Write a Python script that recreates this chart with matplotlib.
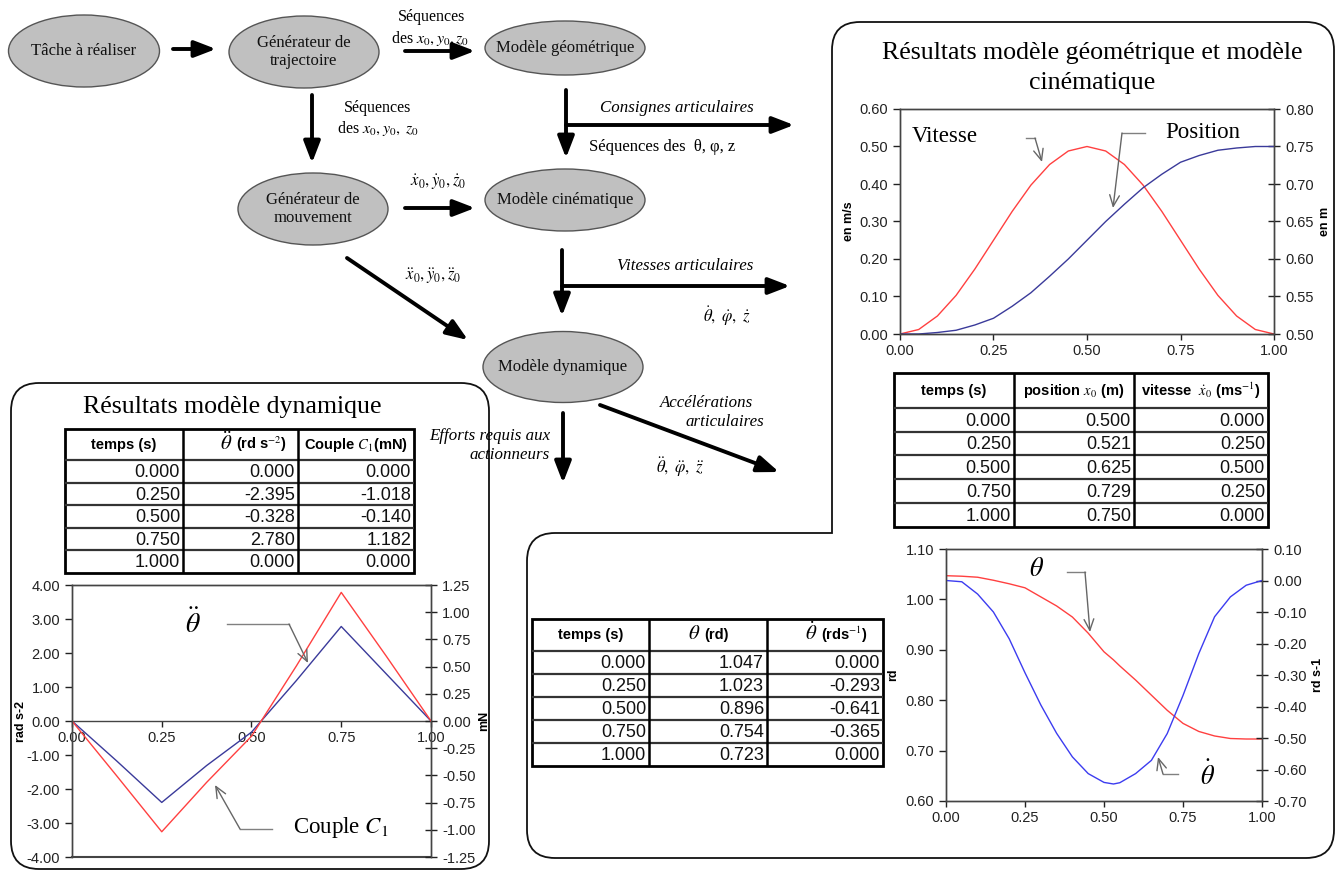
import matplotlib
matplotlib.use('Agg')
import matplotlib.pyplot as plt
from matplotlib.patches import Ellipse, FancyBboxPatch, PathPatch, Rectangle
from matplotlib.path import Path
from matplotlib.ticker import MultipleLocator, FormatStrFormatter

plt.rcParams['font.family'] = ['Liberation Sans', 'DejaVu Sans']
plt.rcParams['mathtext.fontset'] = 'stix'

W, H = 1344, 872
SERIF = ['Liberation Serif', 'DejaVu Serif']

# ---- data : modele geometrique / cinematique
t_geo = [0.00, 0.05, 0.10, 0.15, 0.20, 0.25, 0.30, 0.35, 0.40, 0.45, 0.50,
         0.55, 0.60, 0.65, 0.70, 0.75, 0.80, 0.85, 0.90, 0.95, 1.00]
vitesse = [0.000, 0.012, 0.048, 0.103, 0.173, 0.250, 0.327, 0.397, 0.452, 0.488, 0.500,
           0.488, 0.452, 0.397, 0.327, 0.250, 0.173, 0.103, 0.048, 0.012, 0.000]
position = [0.500, 0.500, 0.502, 0.505, 0.512, 0.521, 0.537, 0.555, 0.577, 0.600, 0.625,
            0.650, 0.673, 0.695, 0.713, 0.729, 0.738, 0.745, 0.748, 0.750, 0.750]

# ---- data : modele dynamique
t_dyn = [0.000, 0.125, 0.250, 0.375, 0.500, 0.625, 0.750, 0.875, 1.000]
theta_dd = [0.000, -1.18, -2.395, -1.31, -0.328, 1.19, 2.780, 1.39, 0.000]
couple = [0.000, -0.506, -1.018, -0.564, -0.140, 0.506, 1.182, 0.598, 0.000]

# ---- data : angles
t_ang = [0.00, 0.05, 0.10, 0.15, 0.20, 0.25, 0.30, 0.35, 0.40, 0.45, 0.50,
         0.53, 0.55, 0.60, 0.65, 0.70, 0.75, 0.80, 0.85, 0.90, 0.95, 1.00]
theta = [1.047, 1.046, 1.044, 1.038, 1.031, 1.023, 1.005, 0.987, 0.965, 0.933, 0.896,
         0.880, 0.868, 0.840, 0.810, 0.780, 0.754, 0.738, 0.729, 0.724, 0.723, 0.723]
theta_d = [0.000, -0.004, -0.043, -0.100, -0.185, -0.293, -0.395, -0.485, -0.560, -0.613, -0.641,
           -0.646, -0.642, -0.613, -0.571, -0.486, -0.365, -0.232, -0.115, -0.052, -0.015, 0.000]

# ---- tables
tab_t = [0.000, 0.250, 0.500, 0.750, 1.000]
tab_pos = [0.500, 0.521, 0.625, 0.729, 0.750]
tab_vit = [0.000, 0.250, 0.500, 0.250, 0.000]
tab_tdd = [0.000, -2.395, -0.328, 2.780, 0.000]
tab_c1 = [0.000, -1.018, -0.140, 1.182, 0.000]
tab_th = [1.047, 1.023, 0.896, 0.754, 0.723]
tab_thd = [0.000, -0.293, -0.641, -0.365, 0.000]

RED = '#ff4040'
NAVY = '#3a3a9a'
BLUE = '#3c3cf0'

fig = plt.figure(figsize=(W / 100, H / 100), dpi=100)
bg = fig.add_axes([0, 0, 1, 1], zorder=0)
bg.set_xlim(0, W)
bg.set_ylim(H, 0)
bg.axis('off')

top = fig.add_axes([0, 0, 1, 1], zorder=10)
top.set_xlim(0, W)
top.set_ylim(H, 0)
top.axis('off')
top.patch.set_visible(False)

# ---- rounded frames
r = 28
verts = [(832, 22 + r), (832, 22), (832 + r, 22), (1334 - r, 22), (1334, 22), (1334, 22 + r),
         (1334, 858 - r), (1334, 858), (1334 - r, 858), (527 + r, 858), (527, 858), (527, 858 - r),
         (527, 533 + r), (527, 533), (527 + r, 533), (832, 533), (832, 22 + r)]
codes = [Path.MOVETO, Path.CURVE3, Path.CURVE3, Path.LINETO, Path.CURVE3, Path.CURVE3,
         Path.LINETO, Path.CURVE3, Path.CURVE3, Path.LINETO, Path.CURVE3, Path.CURVE3,
         Path.LINETO, Path.CURVE3, Path.CURVE3, Path.LINETO, Path.CLOSEPOLY]
bg.add_patch(PathPatch(Path(verts, codes), fc='white', ec='#111', lw=1.3))
bg.add_patch(FancyBboxPatch((11, 383), 478, 486, boxstyle='round,pad=0,rounding_size=28',
                            fc='white', ec='#111', lw=1.3))

# ---- flowchart
nodes = [("Tâche à réaliser", 84, 51, 151, 72),
         ("Générateur de\ntrajectoire", 304, 52, 150, 72),
         ("Modèle géométrique", 565, 48, 160, 54),
         ("Générateur de\nmouvement", 313, 209, 150, 72),
         ("Modèle cinématique", 565, 200, 160, 62),
         ("Modèle dynamique", 563, 367, 160, 71)]
for txt, cx, cy, w, h in nodes:
    bg.add_patch(Ellipse((cx, cy), w, h, fc='#c0c0c0', ec='#555', lw=1))
    bg.text(cx, cy, txt, ha='center', va='center', fontsize=12, family=SERIF,
            linespacing=1.2, color='#111')


def arrow(x0, y0, x1, y1):
    bg.annotate('', xy=(x1, y1), xytext=(x0, y0),
                arrowprops=dict(arrowstyle='-|>,head_length=1.3,head_width=0.5', lw=2.8,
                                color='k', shrinkA=0, shrinkB=0, mutation_scale=10))


arrow(173, 49, 216, 49)
arrow(405, 51, 475, 51)
arrow(312, 95, 312, 163)
arrow(405, 208, 475, 208)
arrow(347, 258, 468, 340)
arrow(566, 90, 566, 158)
arrow(566, 125, 794, 125)
arrow(562, 250, 562, 316)
arrow(562, 286, 790, 286)
arrow(563, 413, 563, 483)
arrow(600, 405, 779, 472)

fs = 11.5
it = 12.2
bg.text(432, 17, "Séquences", ha='center', va='center', fontsize=fs, family=SERIF)
bg.text(430, 38, r"des $x_0, y_0, z_0$", ha='center', va='center', fontsize=fs, family=SERIF)
bg.text(378, 108, "Séquences", ha='center', va='center', fontsize=fs, family=SERIF)
bg.text(378, 128, r"des $x_0, y_0,\ z_0$", ha='center', va='center', fontsize=fs, family=SERIF)
bg.text(438, 182, r"$\dot{x}_0,\dot{y}_0,\dot{z}_0$", ha='center', va='center', fontsize=12)
bg.text(433, 276, r"$\ddot{x}_0,\ddot{y}_0,\ddot{z}_0$", ha='center', va='center', fontsize=12)
bg.text(677, 108, "Consignes articulaires", ha='center', va='center', fontsize=it,
        family=SERIF, style='italic')
bg.text(662, 147, "Séquences des  θ, φ, z", ha='center', va='center', fontsize=12, family=SERIF)
bg.text(685, 266, "Vitesses articulaires", ha='center', va='center', fontsize=it,
        family=SERIF, style='italic')
bg.text(727, 316, r"$\dot{\theta},\ \dot{\varphi},\ \dot{z}$", ha='center', va='center', fontsize=12)
bg.text(550, 436, "Efforts requis aux", ha='right', va='center', fontsize=it,
        family=SERIF, style='italic')
bg.text(550, 455, "actionneurs", ha='right', va='center', fontsize=it,
        family=SERIF, style='italic')
bg.text(660, 403, "Accélérations", ha='left', va='center', fontsize=it,
        family=SERIF, style='italic')
bg.text(685, 422, "articulaires", ha='left', va='center', fontsize=it,
        family=SERIF, style='italic')
bg.text(680, 467, r"$\ddot{\theta},\ \ddot{\varphi},\ \ddot{z}$", ha='center', va='center', fontsize=12)

# ---- titles
bg.text(232, 407, "Résultats modèle dynamique", ha='center', va='center', fontsize=18.6,
        family=SERIF)
bg.text(1092, 53, "Résultats modèle géométrique et modèle", ha='center',
        va='center', fontsize=18.6, family=SERIF)
bg.text(1092, 83, "cinématique", ha='center', va='center', fontsize=18.6, family=SERIF)


# ---- tables
def draw_table(cols, rows, header, columns):
    x0, x1 = cols[0], cols[-1]
    for y in rows[1:-1]:
        bg.plot([x0, x1], [y, y], color='#333', lw=1.6, solid_capstyle='butt')
    for x in cols[1:-1]:
        bg.plot([x, x], [rows[0], rows[-1]], color='k', lw=1.8, solid_capstyle='butt')
    bg.add_patch(Rectangle((x0, rows[0]), x1 - x0, rows[-1] - rows[0], fill=False,
                           ec='k', lw=2))
    yh = (rows[0] + rows[1]) / 2
    for j, hd in enumerate(header):
        xc = (cols[j] + cols[j + 1]) / 2
        if isinstance(hd, tuple):
            bg.text(xc - 8, yh - 2, hd[0], ha='right', va='center', fontsize=15)
            bg.text(xc - 4, yh, hd[1], ha='left', va='center', fontsize=10.5, fontweight='bold')
        else:
            bg.text(xc, yh, hd, ha='center', va='center', fontsize=10.5, fontweight='bold')
    for j, col in enumerate(columns):
        for i, v in enumerate(col):
            bg.text(cols[j + 1] - 3, (rows[i + 1] + rows[i + 2]) / 2 + 1, f"{v:.3f}",
                    ha='right', va='center', fontsize=13, color='#111')


draw_table([894, 1014, 1134, 1268], [373, 408, 432, 455, 479, 503, 527],
           ["temps (s)", r"position $\mathbf{\mathit{x}}_0$ (m)",
            r"vitesse  $\dot{x}_0$ (ms$^{-1}$)"],
           [tab_t, tab_pos, tab_vit])
draw_table([65, 183, 298, 414], [429, 460, 483, 505, 528, 550, 573],
           ["temps (s)", (r"$\ddot{\theta}$", r"(rd s$^{-2}$)"), r"Couple $C_1$(mN)"],
           [tab_t, tab_tdd, tab_c1])
draw_table([532, 649, 767, 883], [619, 651, 674, 697, 720, 743, 766],
           ["temps (s)", (r"$\theta$", "(rd)"), (r"$\dot{\theta}$", r"(rds$^{-1}$)")],
           [tab_t, tab_th, tab_thd])


# ---- charts
def px_axes(x0, y0, x1, y1):
    ax = fig.add_axes([x0 / W, 1 - y1 / H, (x1 - x0) / W, (y1 - y0) / H], zorder=2)
    ax2 = ax.twinx()
    ax2.set_zorder(3)
    ax2.patch.set_visible(False)
    for a in (ax, ax2):
        for s in a.spines.values():
            s.set_color('#444')
            s.set_linewidth(1)
        a.tick_params(labelsize=10.5, colors='#222', width=1)
        a.yaxis.set_major_formatter(FormatStrFormatter('%.2f'))
    ax.tick_params(axis='y', direction='out', length=5)
    ax2.tick_params(axis='y', direction='inout', length=9)
    ax.tick_params(axis='x', direction='out', length=4)
    ax.set_xlim(0, 1)
    ax.xaxis.set_major_locator(MultipleLocator(0.25))
    ax.xaxis.set_major_formatter(FormatStrFormatter('%.2f'))
    return ax, ax2


# geometrique / cinematique
ax, ax2 = px_axes(900, 109, 1274, 334)
ax.plot(t_geo, vitesse, color=RED, lw=1)
ax2.plot(t_geo, position, color=NAVY, lw=1)
ax.set_ylim(0, 0.6)
ax.yaxis.set_major_locator(MultipleLocator(0.1))
ax2.set_ylim(0.5, 0.8)
ax2.yaxis.set_major_locator(MultipleLocator(0.05))
ax.set_ylabel("en m/s", fontsize=9, fontweight='bold', labelpad=3)
ax2.set_ylabel("en m", fontsize=9, fontweight='bold', labelpad=4)

# dynamique
ax, ax2 = px_axes(72, 585, 431, 857)
ax.plot(t_dyn, theta_dd, color=NAVY, lw=1)
ax2.plot(t_dyn, couple, color=RED, lw=1)
ax.set_ylim(-4, 4)
ax.yaxis.set_major_locator(MultipleLocator(1))
ax2.set_ylim(-1.25, 1.25)
ax2.yaxis.set_major_locator(MultipleLocator(0.25))
ax.spines['bottom'].set_position(('data', 0))
ax2.spines['bottom'].set_visible(False)
ax.axhline(-4, color='#444', lw=1.5, clip_on=False)
ax.set_ylabel("rad s-2", fontsize=9, fontweight='bold', labelpad=0)
ax2.set_ylabel("mN", fontsize=9, fontweight='bold', labelpad=2)

# angles
ax, ax2 = px_axes(946, 549, 1262, 801)
ax.plot(t_ang, theta, color=RED, lw=1)
ax2.plot(t_ang, theta_d, color=BLUE, lw=1)
ax.set_ylim(0.6, 1.1)
ax.yaxis.set_major_locator(MultipleLocator(0.1))
ax2.set_ylim(-0.7, 0.1)
ax2.yaxis.set_major_locator(MultipleLocator(0.1))
ax.set_ylabel("rd", fontsize=9, fontweight='bold', labelpad=5)
ax2.set_ylabel("rd s-1", fontsize=9, fontweight='bold', labelpad=4)


# ---- curve labels with pointers
def pointer(pts):
    xs = [p[0] for p in pts]
    ys = [p[1] for p in pts]
    top.plot(xs[:-1], ys[:-1], color='#808080', lw=1)
    top.annotate('', xy=pts[-1], xytext=pts[-2],
                 arrowprops=dict(arrowstyle='->,head_length=0.8,head_width=0.35', lw=1,
                                 color='#666', shrinkA=0, shrinkB=0, mutation_scale=10))


top.text(912, 136, "Vitesse", ha='left', va='center', fontsize=16.5, family=SERIF)
top.text(1165, 132, "Position", ha='left', va='center', fontsize=16.5, family=SERIF)
pointer([(1026, 138), (1035, 138), (1042, 162)])
pointer([(1145, 133), (1122, 133), (1113, 208)])

top.text(193, 624, r"$\ddot{\theta}$", ha='center', va='center', fontsize=20)
top.text(293, 827, r"Couple $C_1$", ha='left', va='center', fontsize=16.5, family=SERIF)
pointer([(227, 624), (289, 624), (308, 663)])
pointer([(272, 829), (240, 829), (215, 785)])

top.text(1037, 569, r"$\theta$", ha='center', va='center', fontsize=19)
top.text(1208, 775, r"$\dot{\theta}$", ha='center', va='center', fontsize=19)
pointer([(1067, 572), (1085, 572), (1090, 632)])
pointer([(1178, 774), (1163, 774), (1158, 757)])

fig.savefig('out.png', dpi=100)
